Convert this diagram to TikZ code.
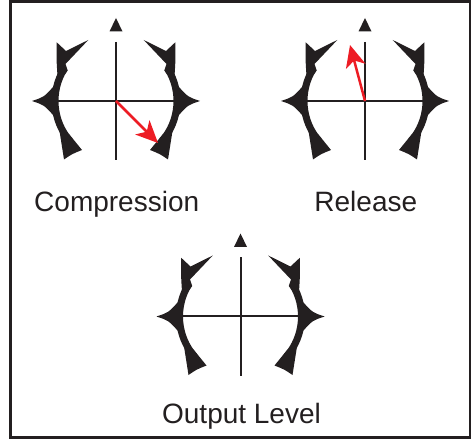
\documentclass[tikz,border=0pt]{standalone}
\usepackage{fontspec}
\setmainfont{Liberation Sans}
\usetikzlibrary{arrows.meta,calc}
\definecolor{ink}{HTML}{231F20}
\definecolor{needle}{HTML}{ED1C24}
\tikzset{
 knob/.pic={
  \foreach \s in {1,-1}{
   \begin{scope}[xscale=\s]
    \draw[ink,line width=7pt] (148:61) arc[start angle=148,end angle=221,radius=61];
    \fill[ink] (-58.5,25) .. controls (-59.5,40) .. (-59.3,58.7) -- (-50,50) -- (-27.7,61) -- (-50.5,37) -- (-48.3,30.5) -- (-51.5,26) -- cycle;
    \fill[ink] (-56.5,-30) -- (-52,-58.5) .. controls (-44,-53) .. (-34,-49) -- (-43.9,-36.8) -- (-47,-33) -- cycle;
    \fill[ink] (-84,0) .. controls (-72,4) .. (-62.5,14.5) -- (-59,14.5) -- (-59,-14.5) -- (-62.5,-14.5) .. controls (-72,-4) .. (-84,0) -- cycle;
   \end{scope}
  }
  \draw[ink,line width=2pt] (-60,0) -- (60,0);
  \draw[ink,line width=2pt] (0,59) -- (0,-59);
  \fill[ink] (0,83) -- (-6.5,69.5) -- (6.5,69.5) -- cycle;
 },
 needlearrow/.style={needle,line width=2.5pt,-{Stealth[length=22pt,width=20pt,inset=6pt]}},
 knoblabel/.style={font=\fontsize{28}{30}\selectfont,text=ink,anchor=base,inner sep=0pt},
 frame/.style={draw=ink,line width=2.5pt}
}
\begin{document}
\begin{tikzpicture}[x=1pt,y=1pt]
\useasboundingbox (0,0) rectangle (476,439);
\draw[frame] (10.5,437.5) rectangle (470,1.5);
\coordinate (k1) at (116,338);
\coordinate (k2) at (365,338);
\coordinate (k3) at (240.5,122.5);
\pic at (k1) {knob};
\pic at (k2) {knob};
\pic at (k3) {knob};
\coordinate (t1) at ($(k1)+(42,-42)$);
\coordinate (t2) at ($(k2)+(-15,56)$);
\draw[needlearrow] (k1) -- (t1);
\draw[needlearrow] (k2) -- (t2);
\node[knoblabel] (l1) at (116.7,227.3) {Compression};
\node[knoblabel] (l2) at (365.8,227.3) {Release};
\node[knoblabel] (l3) at (241.5,15.7) {Output Level};
\end{tikzpicture}
\end{document}
